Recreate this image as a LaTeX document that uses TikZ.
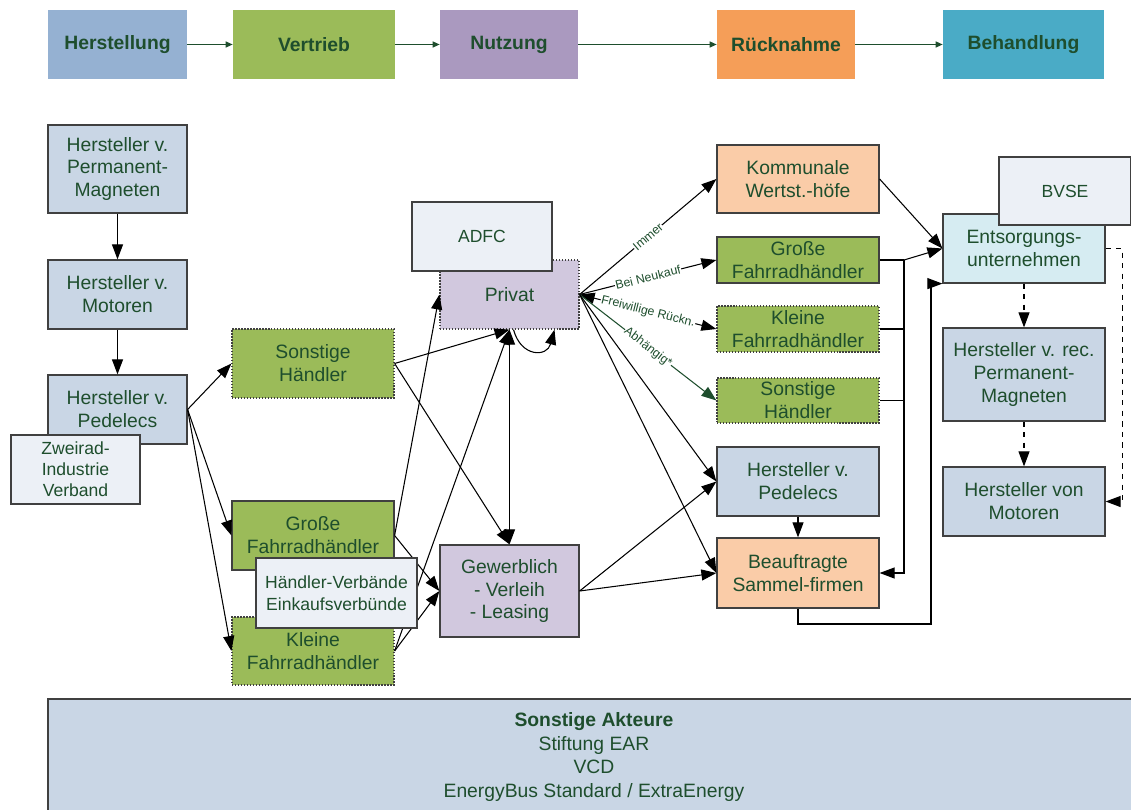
\documentclass[tikz,border=0pt]{standalone}
\usepackage{fontspec}
\setmainfont{Liberation Sans}
\usetikzlibrary{arrows.meta}
\definecolor{txtgreen}{RGB}{30,78,45}
\definecolor{boxgray}{RGB}{64,64,64}
\definecolor{hdblue}{RGB}{149,177,210}
\definecolor{hdgreen}{RGB}{155,187,89}
\definecolor{hdpurple}{RGB}{170,153,191}
\definecolor{hdorange}{RGB}{245,158,88}
\definecolor{hdcyan}{RGB}{74,171,198}
\definecolor{lblue}{RGB}{201,214,229}
\definecolor{lgreen}{RGB}{155,187,89}
\definecolor{lpurple}{RGB}{209,200,222}
\definecolor{lorange}{RGB}{250,204,168}
\definecolor{lcyan}{RGB}{214,236,242}
\definecolor{lgray}{RGB}{236,240,246}
\begin{document}
\begin{tikzpicture}[x=0.02cm, y=-0.02cm,
		box/.style={draw=boxgray, line width=0.7pt, inner sep=0pt, align=center, text=txtgreen, font=\fontsize{11}{13}\selectfont},
		dotbox/.style={box, densely dotted},
		head/.style={inner sep=0pt, minimum height=1.38cm, text=txtgreen, font=\bfseries\fontsize{11}{13}\selectfont},
		arr/.style={-{Triangle[length=3mm,width=2.2mm]}, line width=0.6pt},
		darr/.style={{Triangle[length=3mm,width=2.2mm]}-{Triangle[length=3mm,width=2.2mm]}, line width=0.6pt},
		harr/.style={-{Triangle[length=1.4mm,width=1.2mm]}, line width=0.7pt, txtgreen},
		lbl/.style={sloped, fill=white, inner sep=0.3pt, text=txtgreen, font=\fontsize{7}{8}\selectfont}]
	\useasboundingbox (0,0) rectangle (1131,810);
	\foreach \n/\x/\w/\c/\t in {1/117.5/2.78cm/hdblue/Herstellung, 2/314/3.24cm/hdgreen/Vertrieb, 3/509/2.76cm/hdpurple/Nutzung, 4/786/2.76cm/hdorange/Rücknahme, 5/1023.5/3.22cm/hdcyan/Behandlung}
		\node[head, fill=\c, minimum width=\w] (h\n) at (\x, 44.5) {\t};
	\foreach \i/\j in {1/2, 2/3, 3/4, 4/5}
		\draw[harr] (h\i) -- (h\j);

	\node[box, fill=lblue, minimum width=2.78cm, minimum height=1.76cm] (hpm) at (117.5, 169) {Hersteller v.\\Permanent-\\Magneten};
	\node[box, fill=lblue, minimum width=2.78cm, minimum height=1.38cm] (hmot) at (117.5, 294.5) {Hersteller v.\\Motoren};
	\node[box, fill=lblue, minimum width=2.78cm, minimum height=1.38cm] (hped) at (117.5, 409.5) {Hersteller v.\\Pedelecs};

	\node[dotbox, fill=lgreen, minimum width=3.24cm, minimum height=1.38cm] (sonst1) at (313, 363.5) {Sonstige\\Händler};
	\node[box, fill=lgreen, minimum width=3.24cm, minimum height=1.38cm] (gross1) at (313, 535.5) {Große\\Fahrradhändler};
	\node[dotbox, fill=lgreen, minimum width=3.24cm, minimum height=1.36cm] (klein1) at (313, 651) {Kleine\\Fahrradhändler};

	\node[dotbox, fill=lpurple, minimum width=2.78cm, minimum height=1.38cm] (privat) at (509.5, 294.5) {Privat};
	\node[box, fill=lpurple, minimum width=2.78cm, minimum height=1.84cm] (gewerbl) at (509.5, 591) {Gewerblich\\- Verleih\\- Leasing};

	\node[box, fill=lorange, minimum width=3.24cm, minimum height=1.36cm] (komm) at (798, 179) {Kommunale\\Wertst.-höfe};
	\node[box, fill=lgreen, minimum width=3.24cm, minimum height=0.92cm] (gross2) at (798, 260) {Große\\Fahrradhändler};
	\node[dotbox, fill=lgreen, minimum width=3.24cm, minimum height=0.92cm] (klein2) at (798, 329) {Kleine\\Fahrradhändler};
	\node[dotbox, fill=lgreen, minimum width=3.24cm, minimum height=0.90cm] (sonst2) at (798, 400.5) {Sonstige\\Händler};
	\node[box, fill=lblue, minimum width=3.24cm, minimum height=1.38cm] (hped2) at (798, 481.5) {Hersteller v.\\Pedelecs};
	\node[box, fill=lorange, minimum width=3.24cm, minimum height=1.40cm] (samml) at (798, 573) {Beauftragte\\Sammel-firmen};

	\node[box, fill=lcyan, minimum width=3.24cm, minimum height=1.38cm] (ents) at (1024, 248.5) {Entsorgungs-\\unternehmen};
	\node[box, fill=lblue, minimum width=3.24cm, minimum height=1.86cm] (hrpm) at (1024, 374.5) {Hersteller v. rec.\\Permanent-\\Magneten};
	\node[box, fill=lblue, minimum width=3.24cm, minimum height=1.38cm] (hmot2) at (1024, 501.5) {Hersteller von\\Motoren};

	\node[box, fill=lblue, minimum width=21.84cm, minimum height=2.32cm, font=\fontsize{11}{13.6}\selectfont] (akteure) at (594, 757) {\textbf{Sonstige Akteure}\\Stiftung EAR\\VCD\\EnergyBus Standard / ExtraEnergy};

	\draw[arr] (hpm) -- (hmot);
	\draw[arr] (hmot) -- (hped);
	\draw[arr] (hped.east) -- (sonst1.west);
	\draw[arr] (hped.east) -- (gross1.west);
	\draw[arr] (hped.east) -- (klein1.west);

	\draw[arr] (sonst1.east) -- (privat.south);
	\draw[arr] (sonst1.east) -- (gewerbl.north);
	\draw[arr] (gross1.east) -- (privat.west);
	\draw[arr] (gross1.east) -- (gewerbl.west);
	\draw[arr] (klein1.east) -- (gewerbl.west);
	\draw[arr] (klein1.east) -- (privat.south);
	\draw[darr] (privat.south) -- (gewerbl.north);
	\draw[arr] ([xshift=0.08cm]privat.south) to[out=-75, in=-105, looseness=1.8] ([xshift=0.9cm]privat.south);

	\draw[arr] (privat.east) -- node[lbl] {Immer} (komm.west);
	\draw[arr] (privat.east) -- node[lbl] {Bei Neukauf} (gross2.west);
	\draw[darr] (privat.east) -- node[lbl] {Freiwillige Rückn.} (klein2.west);
	\draw[arr, txtgreen] (privat.east) -- node[lbl] {Abhängig*} (sonst2.west);
	\draw[arr] (privat.east) -- (hped2.west);
	\draw[arr] (privat.east) -- (samml.west);
	\draw[arr] (gewerbl.east) -- (hped2.west);
	\draw[arr] (gewerbl.east) -- (samml.west);

	\coordinate (sj) at (904, 260);
	\coordinate (rj) at (931, 624);
	\draw[arr] (komm.east) -- (ents.west);
	\draw[line width=0.6pt] (gross2.east) -- (sj);
	\draw[arr] (sj) -- (ents.west);
	\draw[arr] (sj) |- (samml.east);
	\draw[line width=0.6pt] (klein2.east) -- (klein2.east -| sj);
	\draw[line width=0.6pt] (sonst2.east) -- (sonst2.east -| sj);
	\draw[arr] (hped2) -- (samml);
	\draw[arr] (samml.south) |- (rj) |- (ents.south west);

	\draw[arr, dashed] (ents) -- (hrpm);
	\draw[arr, dashed] (hrpm) -- (hmot2);
	\draw[arr, dashed] (ents.east) -- ++(17, 0) |- (hmot2.east);

	\node[box, fill=lgray, minimum width=2.58cm, minimum height=1.38cm, font=\fontsize{10}{12}\selectfont] (zweirad) at (75.5, 469.5) {Zweirad-\\Industrie\\Verband};
	\node[box, fill=lgray, minimum width=3.22cm, minimum height=1.40cm, font=\fontsize{10}{12.5}\selectfont] (hverb) at (336.5, 593) {Händler-Verbände\\Einkaufsverbünde};
	\node[box, fill=lgray, minimum width=2.80cm, minimum height=1.38cm, font=\fontsize{10}{12}\selectfont] (adfc) at (482, 236.5) {ADFC};
	\node[box, fill=lgray, minimum width=2.64cm, minimum height=1.36cm, font=\fontsize{10}{12}\selectfont] (bvse) at (1065, 191) {BVSE};
\end{tikzpicture}
\end{document}
